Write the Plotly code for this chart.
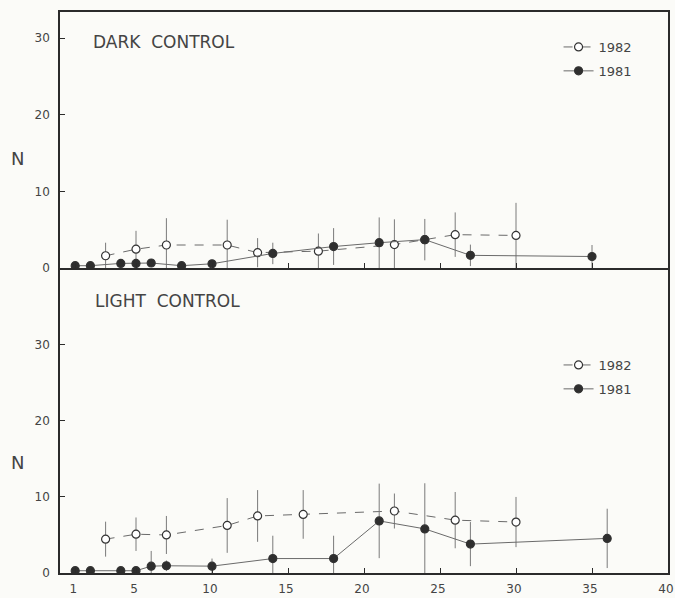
import plotly.graph_objects as go

# ---- DATA ----
dark_1981_x = [1, 2, 4, 5, 6, 8, 10, 14, 18, 21, 24, 27, 35]
dark_1981_y = [0.3, 0.3, 0.6, 0.6, 0.65, 0.3, 0.55, 1.9, 2.8, 3.3, 3.7, 1.65, 1.5]
dark_1981_err = [0, 0, 0.4, 0.6, 0.5, 0, 0, 1.4, 2.4, 3.3, 2.7, 1.4, 1.5]

dark_1982_x = [3, 5, 7, 11, 13, 17, 22, 24, 26, 30]
dark_1982_y = [1.6, 2.45, 3.0, 3.0, 2.0, 2.2, 3.05, 3.7, 4.35, 4.25]
dark_1982_err = [1.7, 2.4, 3.5, 3.3, 1.9, 2.3, 3.3, 0, 2.9, 4.25]

light_1981_x = [1, 2, 4, 5, 6, 7, 10, 14, 18, 21, 24, 27, 36]
light_1981_y = [0.3, 0.3, 0.3, 0.3, 0.9, 0.95, 0.9, 1.9, 1.9, 6.85, 5.8, 3.8, 4.55]
light_1981_err = [0, 0, 0, 0, 2.0, 0.7, 1.0, 3.0, 3.0, 4.9, 6.0, 2.9, 3.9]

light_1982_x = [3, 5, 7, 11, 13, 16, 22, 26, 30]
light_1982_y = [4.45, 5.1, 5.0, 6.25, 7.5, 7.7, 8.15, 6.95, 6.7]
light_1982_err = [2.3, 2.2, 2.5, 3.6, 3.4, 3.2, 2.3, 3.7, 3.3]

x_tickvals = [1, 5, 10, 15, 20, 25, 30, 35, 40]
x_ticktext = ["1", "5", "10", "15", "20", "25", "30", "35", "40"]
y_tickvals = [0, 10, 20, 30]
panel_titles = ["DARK  CONTROL", "LIGHT  CONTROL"]
series_names = ["1982", "1981"]

# ---- STYLE ----
FONT = "DejaVu Sans"
TXT = "#444444"
FRAME = "#2b2b2b"
LINE = "#6a6a6a"
ERR = "#7a7a7a"
BG = "#fbfbf8"

fig = go.Figure()


def add_series(x, y, err, name, open_marker, xa, ya, legend):
    fig.add_trace(go.Scatter(
        x=x, y=y, name=name,
        mode="lines+markers",
        xaxis=xa, yaxis=ya,
        legend=legend,
        legendgroup=legend + name,
        line=dict(color=LINE, width=1, dash="dash" if open_marker else "solid"),
        marker=dict(
            symbol="circle",
            size=8,
            color="#ffffff" if open_marker else "#2e2e2e",
            line=dict(width=1.2, color="#333333"),
        ),
        error_y=dict(type="data", array=err, visible=True, color=ERR,
                     thickness=1, width=0),
        cliponaxis=True,
    ))


add_series(dark_1982_x, dark_1982_y, dark_1982_err, series_names[0], True, "x", "y", "legend")
add_series(dark_1981_x, dark_1981_y, dark_1981_err, series_names[1], False, "x", "y", "legend")
add_series(light_1982_x, light_1982_y, light_1982_err, series_names[0], True, "x2", "y2", "legend2")
add_series(light_1981_x, light_1981_y, light_1981_err, series_names[1], False, "x2", "y2", "legend2")

split = 305 / 561

axis_common = dict(
    showline=True, linecolor=FRAME, linewidth=1.5,
    showgrid=False, zeroline=False, automargin=False,
    ticks="inside", ticklen=5, tickcolor=FRAME, tickwidth=1,
    tickfont=dict(family=FONT, size=12, color=TXT),
)

fig.update_layout(
    template="none",
    font=dict(family=FONT, color=TXT),
    width=675, height=598,
    margin=dict(l=60, r=7, t=12, b=25),
    paper_bgcolor=BG, plot_bgcolor=BG,
    xaxis=dict(domain=[0, 1], anchor="y", range=[0, 40], tickvals=x_tickvals,
               showticklabels=False, mirror=True, **axis_common),
    yaxis=dict(domain=[split, 1], anchor="x", range=[0, 33.4], tickvals=y_tickvals,
               ticklabelstandoff=6, mirror=True, **axis_common),
    xaxis2=dict(domain=[0, 1], anchor="y2", range=[0, 40], tickvals=x_tickvals,
                ticktext=x_ticktext, ticklabelstandoff=4, ticklabelshift=-2,
                mirror=False, **axis_common),
    yaxis2=dict(domain=[0, split], anchor="x2", range=[0, 40.1], tickvals=y_tickvals,
                ticklabelstandoff=6, mirror=True, **axis_common),
    legend=dict(x=0.82, y=(573 - 32) / 561, xanchor="left", yanchor="top",
                bgcolor="rgba(0,0,0,0)", font=dict(family=FONT, size=13, color=TXT),
                itemwidth=30, tracegroupgap=4),
    legend2=dict(x=0.82, y=(573 - 350) / 561, xanchor="left", yanchor="top",
                 bgcolor="rgba(0,0,0,0)", font=dict(family=FONT, size=13, color=TXT),
                 itemwidth=30, tracegroupgap=4),
    showlegend=True,
)

# panel titles and y-axis labels
fig.add_annotation(text=panel_titles[0], xref="paper", yref="paper", x=(91 - 60) / 608,
                   y=(573 - 42) / 561, xanchor="left", yanchor="middle", showarrow=False,
                   font=dict(family=FONT, size=17, color=TXT))
fig.add_annotation(text=panel_titles[1], xref="paper", yref="paper", x=(93 - 60) / 608,
                   y=(573 - 301) / 561, xanchor="left", yanchor="middle", showarrow=False,
                   font=dict(family=FONT, size=17, color=TXT))
for ypix in (158, 462):
    fig.add_annotation(text="N", xref="paper", yref="paper", x=(17 - 60) / 608,
                       y=(573 - ypix) / 561, xanchor="center", yanchor="middle",
                       showarrow=False, font=dict(family=FONT, size=18, color=TXT))

fig.write_html("out.html", config={"displayModeBar": False},
               post_script="document.body.style.margin='0';document.body.style.overflow='hidden';")
